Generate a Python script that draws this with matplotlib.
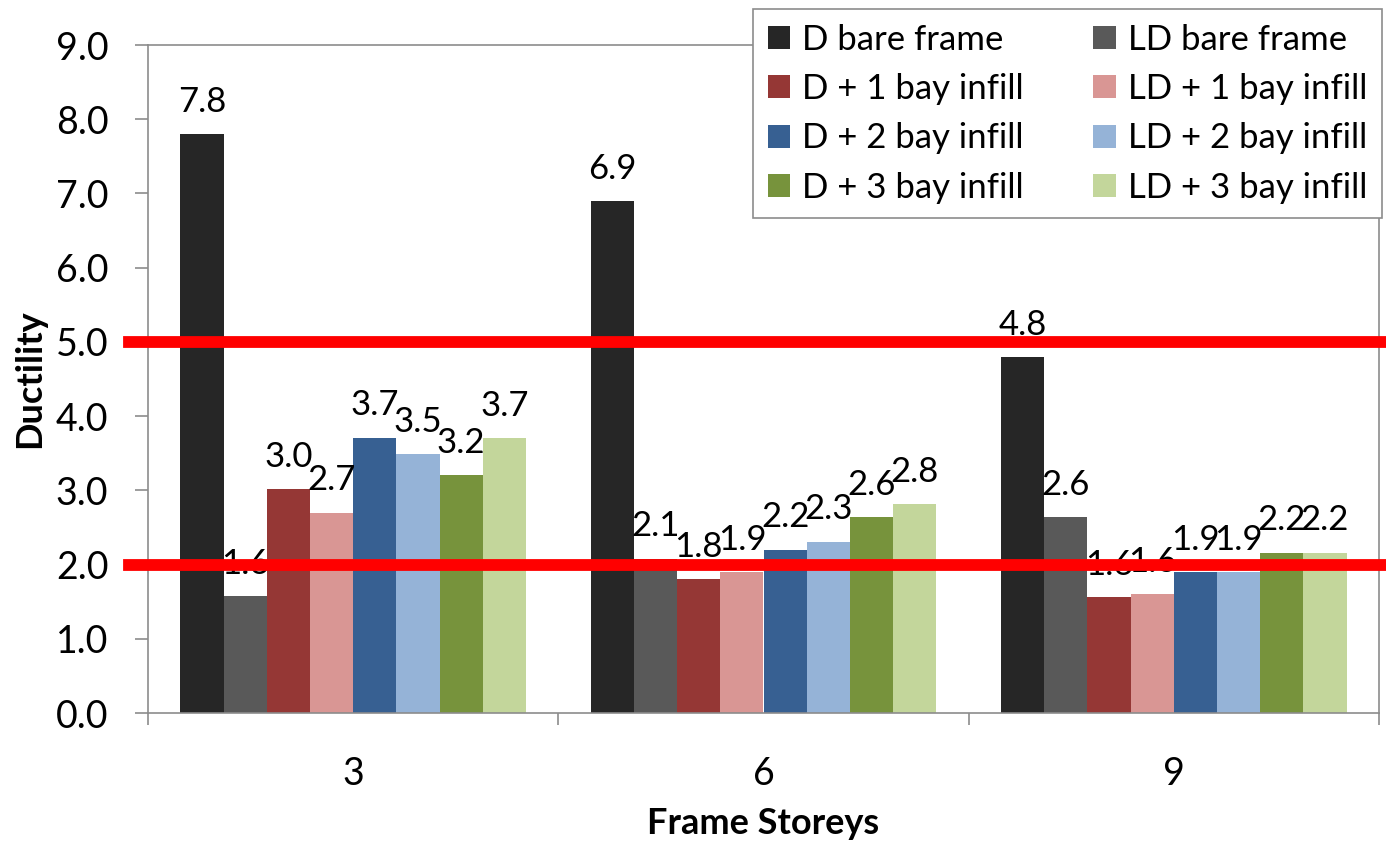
import numpy as np
import matplotlib.pyplot as plt

plt.rcParams['font.family'] = ['Lato', 'DejaVu Sans']

# Datos: ductilidad por número de pisos
storeys = ['3', '6', '9']
series = ['D bare frame', 'LD bare frame',
          'D + 1 bay infill', 'LD + 1 bay infill',
          'D + 2 bay infill', 'LD + 2 bay infill',
          'D + 3 bay infill', 'LD + 3 bay infill']
d_bare = [7.8, 6.9, 4.8]
ld_bare = [1.57, 2.08, 2.64]
d_1bay = [3.02, 1.8, 1.56]
ld_1bay = [2.7, 1.9, 1.6]
d_2bay = [3.71, 2.2, 1.9]
ld_2bay = [3.49, 2.31, 1.9]
d_3bay = [3.2, 2.64, 2.16]
ld_3bay = [3.7, 2.81, 2.16]
limits = [5.0, 2.0]

colores = ['#262626', '#595959', '#953735', '#D99694',
           '#376092', '#95B3D7', '#77933C', '#C3D69B']

valores = [d_bare, ld_bare, d_1bay, ld_1bay, d_2bay, ld_2bay, d_3bay, ld_3bay]

fig = plt.figure(figsize=(13.86, 8.41), dpi=100)
ax = fig.add_axes([148 / 1386, 1 - 713 / 841, 1231 / 1386, 668 / 841])

x = np.arange(len(storeys))
n = len(series)
ancho = 1 / (n + 1.5)   # separación entre grupos del 150%

barras = []
for i, (nombre, vals, col) in enumerate(zip(series, valores, colores)):
    pos = x - n * ancho / 2 + ancho * (i + 0.5)
    b = ax.bar(pos, vals, ancho, color=col, label=nombre, zorder=2)
    barras.append(b)
    for xi, v in zip(pos, vals):
        ax.annotate(f'{v:.1f}', (xi, v), xytext=(0, 16), textcoords='offset points',
                    ha='center', va='baseline', fontsize=25, zorder=3)

# Líneas rojas de los límites de ductilidad
for lim in limits:
    ax.axhline(lim, xmin=-19 / 1231, xmax=1238 / 1231, color='#FF0000',
               linewidth=8.5, clip_on=False, zorder=5)

ax.set_xlim(-0.5, 2.5)
ax.set_ylim(0, 9)
ax.set_yticks(np.arange(0, 9.5, 1.0))
ax.set_yticklabels([f'{t:.1f}' for t in np.arange(0, 9.5, 1.0)])
ax.set_xticks(x)
ax.set_xticklabels(storeys)
ax.set_xticks([-0.5, 0.5, 1.5, 2.5], minor=True)

gris = '#8c8c8c'
for s in ax.spines.values():
    s.set_color(gris)
    s.set_linewidth(1.2)
ax.tick_params(axis='y', direction='out', length=9.5, width=1.2, color=gris,
               pad=19, labelsize=27)
ax.tick_params(axis='x', which='major', length=0, pad=31, labelsize=27)
ax.tick_params(axis='x', which='minor', direction='out', length=8.5, width=1.2,
               color=gris)

fig.text(30 / 1386, 1 - 379 / 841, 'Ductility', rotation=90, ha='center',
         va='center', fontsize=26, fontweight='bold')
fig.text(763 / 1386, 1 - 823 / 841, 'Frame Storeys', ha='center', va='center',
         fontsize=26, fontweight='bold')

# Leyenda en dos columnas, ordenada por filas
orden = [0, 2, 4, 6, 1, 3, 5, 7]
leg = fig.legend([barras[i] for i in orden], [series[i] for i in orden],
                 loc='upper right', bbox_to_anchor=(1382 / 1386, 1 - 9 / 841),
                 ncol=2, fontsize=25, frameon=True, fancybox=False,
                 handlelength=0.65, handleheight=0.65, handletextpad=0.35,
                 columnspacing=2.0, labelspacing=0.5, borderpad=0.42,
                 borderaxespad=0)
leg.get_frame().set_edgecolor(gris)
leg.get_frame().set_linewidth(1.2)
leg.get_frame().set_alpha(1)
leg.set_zorder(10)

fig.savefig('out.png', dpi=100)
